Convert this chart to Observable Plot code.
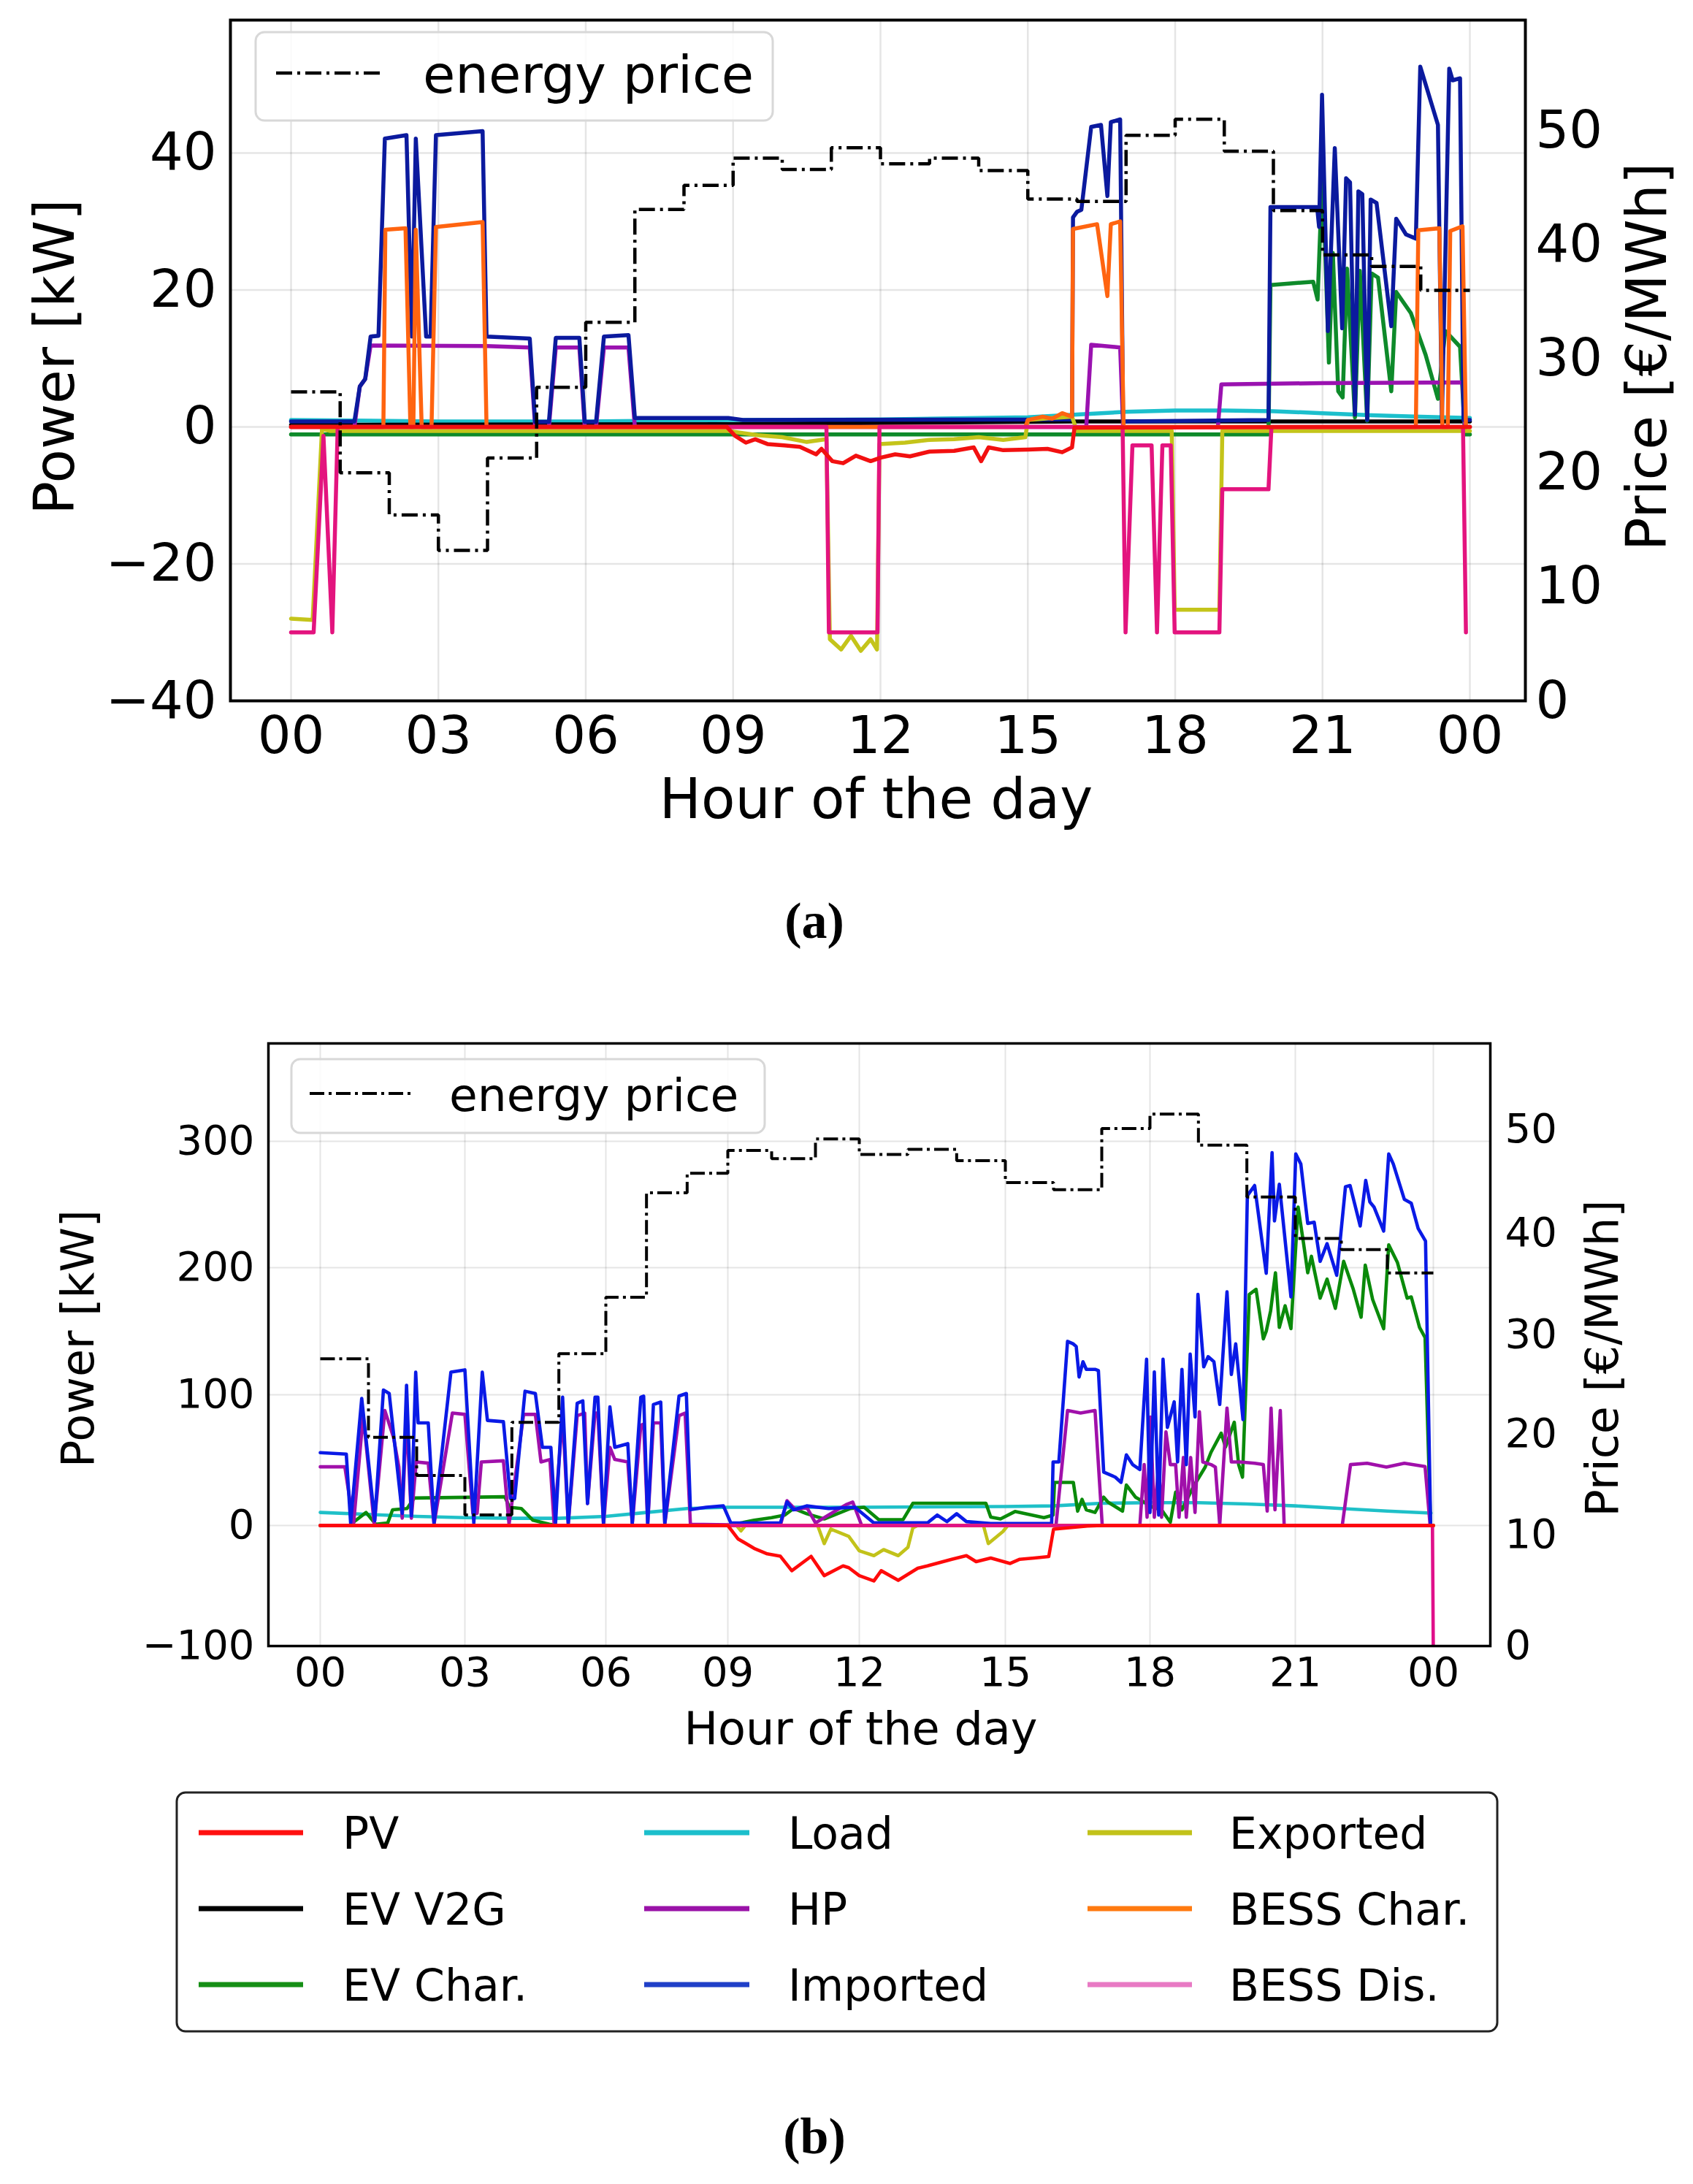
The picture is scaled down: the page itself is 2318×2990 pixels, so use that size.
<!DOCTYPE html>
<html><head><meta charset="utf-8">
<script src="https://cdn.jsdelivr.net/npm/d3@7"></script>
<script src="https://cdn.jsdelivr.net/npm/@observablehq/plot@0.6"></script>
<style>
body{margin:0;background:#fff;}
#page{position:relative;width:2318px;height:2990px;background:#fff;overflow:hidden;font-family:"DejaVu Sans",sans-serif;}
.layer{position:absolute;left:0;}
.cap{position:absolute;font-family:"Liberation Serif","DejaVu Serif",serif;font-weight:bold;font-size:70px;transform:translate(-50%,-50%);white-space:nowrap;}
</style></head><body><div id="page"></div>
<script>
// ---------------- shared ticks / labels ----------------
const hourTicks = [0, 3, 6, 9, 12, 15, 18, 21, 24];
const powerTicksA = [-40, -20, 0, 20, 40];
const powerTicksB = [-100, 0, 100, 200, 300];
const priceTicks = [0, 10, 20, 30, 40, 50];
const seriesNames = ["PV", "EV V2G", "EV Char.", "Load", "HP", "Imported", "Exported", "BESS Char.", "BESS Dis."];

// ---------------- (a) hourly energy price [€/MWh] ----------------
const priceA = [27.1, 20.0, 16.3, 13.2, 21.3, 27.5, 33.2, 43.1, 45.2, 47.6, 46.6, 48.5, 47.1, 47.6, 46.5, 44.0, 43.8, 49.6, 51.0, 48.2, 43.0, 39.1, 38.1, 36.0];
// ---------------- (a) power series [hour, kW] ----------------
const aPV = [[0,0],[8.87,0],[9.04,-1.3],[9.26,-2.3],[9.45,-1.8],[9.7,-2.5],[10.04,-2.7],[10.36,-2.9],[10.69,-4.0],[10.8,-3.2],[11.02,-5.0],[11.24,-5.3],[11.5,-4.2],[11.8,-5.0],[12.0,-4.5],[12.3,-4.0],[12.6,-4.3],[13.0,-3.6],[13.5,-3.5],[13.9,-3.0],[14.05,-5.0],[14.2,-3.0],[14.5,-3.4],[15.0,-3.3],[15.4,-3.2],[15.7,-3.7],[15.9,-3.0],[15.95,-0.1],[24,0]];
const aV2G = [[0,0.3],[9,0.4],[16,0.8],[24,0.8]];
const aEV = [[0,-1.1],[19.9,-1.1],[19.94,20.7],[20.81,21.2],[20.9,18.6],[21.0,37.6],[21.13,9.4],[21.21,25.4],[21.32,5.2],[21.41,4.3],[21.5,23.1],[21.66,1.4],[21.76,22.8],[21.91,0.9],[22.0,22.4],[22.13,21.8],[22.4,5.2],[22.5,19.7],[22.8,16.6],[23.1,10.5],[23.35,4.1],[23.5,14.0],[23.8,11.7],[23.9,-1.1],[24,-1.1]];
const aLoad = [[0,1.0],[3,0.8],[6,0.8],[9,1.0],[12,1.1],[15,1.4],[16,1.8],[17,2.2],[18,2.4],[19,2.4],[20,2.3],[21,2.0],[22,1.7],[23,1.5],[24,1.3]];
const aHP = [[0,0],[1.29,0],[1.4,5.9],[1.51,7.0],[1.62,11.9],[3.98,11.8],[4.86,11.6],[4.97,0],[5.25,0],[5.39,11.6],[5.87,11.6],[5.98,0],[6.21,0],[6.37,11.6],[6.87,11.6],[7.0,0],[16.19,0],[16.29,12.0],[16.88,11.6],[16.94,0],[18.87,0],[18.94,6.2],[21,6.4],[23.85,6.5],[23.9,0],[24,0]];
const aImp = [[0,0.8],[1.29,0.8],[1.4,5.9],[1.51,7.0],[1.62,13.2],[1.78,13.3],[1.91,42.1],[2.35,42.6],[2.46,13.2],[2.54,42.1],[2.75,13.2],[2.84,13.2],[2.95,42.6],[3.9,43.2],[3.98,13.2],[4.86,12.9],[4.97,0.75],[5.25,0.75],[5.39,13.0],[5.87,13.0],[5.98,0.75],[6.21,0.75],[6.37,13.2],[6.87,13.4],[7.0,1.3],[8.9,1.3],[9.2,1.0],[15.9,1.1],[15.92,30.6],[16.0,31.4],[16.09,31.7],[16.29,43.8],[16.49,44.1],[16.62,33.7],[16.69,44.5],[16.88,44.9],[16.94,0.8],[19.9,1.0],[19.94,32.1],[20.89,32.1],[20.93,29.2],[20.99,48.5],[21.11,14.0],[21.25,40.7],[21.4,14.4],[21.48,36.3],[21.56,35.7],[21.66,1.8],[21.73,34.4],[21.81,34.0],[21.91,1.0],[21.98,33.2],[22.1,32.7],[22.4,14.7],[22.5,30.4],[22.7,28.1],[22.9,27.5],[22.99,52.6],[23.35,44.1],[23.43,1.0],[23.58,52.3],[23.65,50.6],[23.8,50.9],[23.87,1.0],[24,1.0]];
const aExp = [[0,-28.0],[0.44,-28.2],[0.63,-0.3],[0.8,-0.6],[8.9,-0.6],[9.1,-0.8],[9.5,-1.2],[10.0,-1.5],[10.5,-2.2],[10.9,-1.8],[10.97,-31.0],[11.2,-32.5],[11.4,-30.5],[11.6,-32.7],[11.8,-31.0],[11.93,-32.5],[11.98,-2.5],[12.5,-2.3],[13.0,-1.9],[13.5,-1.8],[14.0,-1.5],[14.5,-1.9],[14.95,-1.5],[15.0,1.0],[15.5,1.3],[15.9,1.5],[16.0,-0.6],[17.93,-0.6],[17.99,-26.7],[18.9,-26.7],[18.96,-0.6],[24,-0.6]];
const aBC = [[0,0],[1.88,0],[1.92,28.8],[2.33,29.0],[2.43,0],[2.49,0],[2.54,28.8],[2.66,0],[2.86,0],[2.95,29.2],[3.9,29.9],[3.98,0],[14.95,0],[15.0,1.0],[15.3,1.5],[15.5,1.2],[15.7,2.0],[15.9,1.5],[15.92,28.9],[16.41,29.6],[16.62,19.1],[16.69,29.6],[16.88,30.0],[16.95,0],[22.9,0],[22.95,28.7],[23.38,29.0],[23.44,0],[23.55,0],[23.6,28.6],[23.85,29.3],[23.92,0],[24,0]];
const aBD = [[0,-30],[0.46,-30],[0.66,-1.3],[0.84,-30],[0.95,0],[10.9,0],[10.95,-30],[11.94,-30],[11.98,0],[16.93,0],[16.99,-30],[17.13,-2.7],[17.52,-2.7],[17.63,-30],[17.74,-2.7],[17.91,-2.7],[17.99,-30],[18.9,-30],[18.96,-9.1],[19.9,-9.1],[19.96,0],[23.86,0],[23.92,-30]];

// ---------------- (b) hourly energy price [€/MWh] ----------------
const priceB = [27.6, 19.7, 15.9, 12.0, 21.2, 28.1, 33.7, 43.9, 45.8, 48.0, 47.2, 49.1, 47.6, 48.1, 47.0, 44.9, 44.2, 50.1, 51.5, 48.5, 43.5, 39.5, 38.4, 36.1];
// ---------------- (b) power series [hour, kW] ----------------
const bPV = [[0,0],[9.0,0],[9.23,-11],[9.6,-19],[9.9,-23.5],[10.2,-25.5],[10.46,-37.5],[10.9,-25.6],[11.2,-41.6],[11.63,-33.5],[11.76,-35],[12.0,-41.6],[12.3,-46],[12.45,-37.5],[12.8,-45.5],[13.2,-35.5],[13.4,-33.5],[13.9,-28],[14.2,-25],[14.4,-30],[14.7,-27],[15.1,-31.5],[15.3,-28],[15.6,-27],[15.9,-25.8],[16.0,-3],[16.7,-0.5],[17,0],[24,0]];
const bV2G = [[0,0],[24,0]];
const bEV = [[0,0],[0.6,0],[0.95,10],[1.15,1],[1.4,2],[1.5,12],[1.8,13],[1.95,21],[3.85,22],[3.95,14],[4.2,13],[4.45,4],[4.8,1],[5.0,0],[9.1,0],[9.3,2],[9.6,4],[10.0,6],[10.3,8],[10.5,13],[10.8,9],[11.2,5],[11.8,13],[12.1,14],[12.4,4.5],[12.9,4.5],[13.1,17],[14.6,17],[14.7,6.4],[14.9,5],[15.2,10.7],[15.8,6],[15.99,8],[16.02,33],[16.41,33],[16.5,11],[16.59,20],[16.68,12],[16.86,10],[17.04,21.7],[17.13,17.9],[17.43,11],[17.51,31],[17.7,21.7],[17.88,17.9],[18.06,14],[18.24,12],[18.42,2.5],[18.53,25.5],[18.66,12],[18.9,30],[19.14,44.7],[19.26,56],[19.47,70.6],[19.56,60],[19.74,79],[19.83,46.6],[19.91,37],[20.05,179],[20.19,183],[20.34,144],[20.4,150],[20.49,166],[20.59,196],[20.67,153],[20.79,170],[20.91,152],[21.06,248],[21.18,219],[21.27,196],[21.35,209],[21.54,176],[21.69,191],[21.87,168],[22.05,205],[22.26,183],[22.43,161],[22.52,202],[22.68,175],[22.92,152],[23.03,218],[23.22,204],[23.43,176],[23.52,177],[23.7,153],[23.82,145],[23.94,0],[24,0]];
const bLoad = [[0,10],[1,8.5],[2,7],[3,6],[4,5.5],[5,5.5],[6,7],[7,10],[8,13],[9,14],[12,14],[15,14.5],[16,15],[17,17],[18,17.5],[19,17.5],[20,16.5],[21,15],[22,13],[23,11],[23.95,9.5]];
const bHP = [[0,44.9],[0.51,44.9],[0.69,0.9],[0.89,84.1],[1.12,0.9],[1.34,87.9],[1.52,67.3],[1.63,44.9],[1.7,5.6],[1.79,84.1],[1.89,5.6],[1.99,48.6],[2.24,47.7],[2.36,0.9],[2.74,86],[3.0,85],[3.17,9.3],[3.26,9.3],[3.35,48.6],[3.82,49.5],[3.94,0.9],[4.25,85],[4.5,85],[4.62,48.6],[4.81,50.5],[4.9,0.9],[5.08,84],[5.2,0.9],[5.39,84],[5.55,86],[5.61,16.8],[5.77,86],[5.83,86],[5.95,0.9],[6.1,59.8],[6.22,50.5],[6.54,48.6],[6.65,0.9],[6.86,76.6],[6.93,77.6],[7.03,0.9],[7.17,78.5],[7.35,78.5],[7.45,0.9],[7.8,84],[7.95,86],[8.08,0.9],[10.2,0],[10.35,19],[10.55,12],[10.8,14],[11.0,2],[11.4,10],[11.7,16],[11.85,18],[12.05,0],[16.05,0],[16.29,88],[16.56,86],[16.86,88],[17.01,0],[17.79,0],[17.88,46.6],[17.94,6.3],[18.01,83],[18.09,6.3],[18.18,46.6],[18.24,6.3],[18.33,71.6],[18.42,46.6],[18.53,46.6],[18.6,6.3],[18.69,52],[18.75,6.3],[18.84,52],[18.93,10],[19.02,87],[19.09,48.6],[19.26,46.6],[19.35,44.7],[19.44,0.6],[19.59,89.8],[19.68,48.6],[19.86,48.6],[20.16,47.6],[20.34,46.6],[20.42,11],[20.5,89.8],[20.58,12],[20.69,88],[20.77,0],[22.02,0],[22.2,46.6],[22.56,47.6],[22.98,44.7],[23.37,47.6],[23.82,45.1],[23.93,0],[24,0]];
const bImp = [[0,55.7],[0.54,54.6],[0.63,1.9],[0.86,97.2],[1.13,3.7],[1.31,103.7],[1.43,101],[1.7,9.3],[1.79,107.5],[1.89,7.5],[1.98,117.8],[2.03,78.5],[2.24,78.5],[2.36,1.9],[2.71,117.8],[3.0,119.6],[3.19,1.9],[3.37,117.8],[3.48,80.4],[3.82,79.4],[3.97,20.6],[4.06,20.6],[4.28,102.8],[4.5,101],[4.65,59.8],[4.83,59.8],[4.93,1.9],[5.08,98.1],[5.2,1.9],[5.39,93.5],[5.51,95.3],[5.61,16.8],[5.77,98.1],[5.83,98.1],[5.95,1.9],[6.1,90.7],[6.22,59.8],[6.54,62.6],[6.65,1.9],[6.86,98.1],[6.93,99],[7.03,1.9],[7.17,92.5],[7.35,94.4],[7.45,1.9],[7.8,99],[7.98,101],[8.08,12.1],[8.47,14],[8.89,15],[9.07,1.9],[10.2,2],[10.35,18],[10.5,12],[10.8,15],[11.3,13],[11.9,14],[12.3,2],[13.4,2],[13.6,8],[13.8,3],[14.0,9],[14.2,3],[14.7,1.5],[15.96,1.5],[15.99,48.6],[16.11,48.6],[16.29,142],[16.41,140],[16.47,138],[16.53,114],[16.61,126],[16.68,120],[16.86,120],[16.93,119],[17.04,40.9],[17.28,37],[17.4,33],[17.51,54],[17.64,46.6],[17.79,42.8],[17.93,128],[18.0,10],[18.09,118],[18.18,8],[18.27,128],[18.36,75],[18.5,94.6],[18.57,48.6],[18.66,120],[18.75,46.6],[18.83,132],[18.93,83],[18.99,179],[19.11,122],[19.2,130],[19.32,126],[19.44,92.6],[19.59,181],[19.68,116],[19.77,140],[19.92,81],[20.01,257],[20.16,265],[20.4,195.6],[20.52,291],[20.57,237],[20.67,266],[20.91,177],[21.01,290],[21.12,282],[21.27,235],[21.41,236],[21.54,205],[21.69,219],[21.9,194],[22.09,264],[22.19,265],[22.41,233],[22.53,269],[22.62,252],[22.71,248],[22.92,229],[23.03,290],[23.13,282],[23.37,254],[23.52,251],[23.67,231],[23.83,221],[23.94,1]];
const bExp = [[0,0],[9.2,0],[9.3,-4.5],[9.4,0],[11.05,0],[11.2,-15],[11.35,-3],[11.76,-9],[12.0,-21],[12.3,-25],[12.5,-20],[12.8,-25],[13.0,-18],[13.1,-2],[13.2,0],[14.55,0],[14.65,-15],[14.8,-10],[14.95,-5],[15.05,0],[24,0]];
const bBC = [[0,0],[24,0]];
const bBD = [[0,0],[23.98,0],[24,-110]];

// ---------------- styles ----------------
const colorsA = {"PV":"#f21010","EV V2G":"#000000","EV Char.":"#0e8a2a","Load":"#1cbfcc","HP":"#9a12b0","Imported":"#0b1a9e","Exported":"#c4c41a","BESS Char.":"#ff6410","BESS Dis.":"#e3147e"};
const colorsB = {"PV":"#ff0a0a","EV V2G":"#000000","EV Char.":"#0a8a0a","Load":"#1fc0c8","HP":"#a010aa","Imported":"#0a1ae6","Exported":"#c2c21a","BESS Char.":"#ff6a10","BESS Dis.":"#e0108a"};
const colorsLegend = {"PV":"#ff1010","EV V2G":"#000000","EV Char.":"#168f16","Load":"#1cbfcc","HP":"#9a12a8","Imported":"#2040c8","Exported":"#c2c21a","BESS Char.":"#ff7a10","BESS Dis.":"#e87ac4"};
const drawOrder = ["Load","EV V2G","EV Char.","HP","Imported","Exported","BESS Char.","BESS Dis.","PV"];

const seriesA = {"PV":aPV,"EV V2G":aV2G,"EV Char.":aEV,"Load":aLoad,"HP":aHP,"Imported":aImp,"Exported":aExp,"BESS Char.":aBC,"BESS Dis.":aBD};
const seriesB = {"PV":bPV,"EV V2G":bV2G,"EV Char.":bEV,"Load":bLoad,"HP":bHP,"Imported":bImp,"Exported":bExp,"BESS Char.":bBC,"BESS Dis.":bBD};

const fmtHour = d => String(d % 24).padStart(2, "0");
const fmtNum = d => d < 0 ? "\u2212" + Math.abs(d) : String(d);
const priceRows = arr => d3.range(25).map(h => ({h, p: arr[Math.min(h, 23)]}));
const FONT = "DejaVu Sans";
const page = document.getElementById("page");

function place(node, top) {
  const div = document.createElement("div");
  div.className = "layer"; div.style.top = top + "px";
  div.appendChild(node); page.appendChild(div);
}

function buildChart(cfg) {
  const W = 2318, H = cfg.height;
  const m = cfg.margins;
  const fcx = (m.left + (W - m.right)) / 2, fcy = (m.top + (H - m.bottom)) / 2;
  const main = Plot.plot({
    width: W, height: H,
    marginTop: m.top, marginBottom: m.bottom, marginLeft: m.left, marginRight: m.right,
    style: {fontFamily: FONT, background: "white", color: "black", overflow: "visible"},
    x: cfg.x, y: cfg.y,
    marks: [
      Plot.gridX(hourTicks, {stroke: "#000", strokeOpacity: 0.1, strokeWidth: cfg.gridW}),
      Plot.gridY(cfg.powerTicks, {stroke: "#000", strokeOpacity: 0.1, strokeWidth: cfg.gridW}),
      ...drawOrder.map(name => Plot.line(cfg.series[name], {
        x: d => d[0], y: d => d[1], stroke: cfg.colors[name], strokeWidth: cfg.lineW, clip: true
      })),
      Plot.axisX({ticks: hourTicks, tickFormat: fmtHour, tickSize: 0, tickPadding: cfg.xPad, fontSize: cfg.tickFont, label: null}),
      Plot.axisY({ticks: cfg.powerTicks, tickFormat: fmtNum, tickSize: 0, tickPadding: cfg.yPad, fontSize: cfg.tickFont, label: null}),
      Plot.frame({stroke: "black", strokeWidth: cfg.frameW}),
      Plot.text(["Hour of the day"], {text: d => d, frameAnchor: "middle", textAnchor: "middle", lineAnchor: "middle", dx: cfg.xLabel[0] - fcx, dy: cfg.xLabel[1] - fcy, fontSize: cfg.labelFont}),
      Plot.text(["Power [kW]"], {text: d => d, frameAnchor: "middle", textAnchor: "middle", lineAnchor: "middle", rotate: -90, dx: cfg.yLabel[0] - fcx, dy: cfg.yLabel[1] - fcy, fontSize: cfg.labelFont})
    ]
  });
  const over = Plot.plot({
    width: W, height: H,
    marginTop: m.top, marginBottom: m.bottom, marginLeft: m.left, marginRight: m.right,
    style: {fontFamily: FONT, background: "transparent", color: "black", overflow: "visible"},
    x: {...cfg.x, axis: null}, y: cfg.py,
    marks: [
      Plot.line(priceRows(cfg.price), {x: "h", y: "p", curve: "step-after", stroke: "black", strokeWidth: cfg.priceW, strokeDasharray: cfg.dash, strokeLinecap: "butt", strokeLinejoin: "miter"}),
      Plot.axisY({anchor: "right", ticks: priceTicks, tickSize: 0, tickPadding: cfg.rPad, fontSize: cfg.tickFont, label: null}),
      Plot.text(["Price [\u20AC/MWh]"], {text: d => d, frameAnchor: "middle", textAnchor: "middle", lineAnchor: "middle", rotate: -90, dx: cfg.rLabel[0] - fcx, dy: cfg.rLabel[1] - fcy, fontSize: cfg.labelFont})
    ]
  });
  place(main, cfg.top);
  place(over, cfg.top);
}

// ---------------- chart (a) ----------------
buildChart({
  top: 0, height: 1150,
  margins: {top: 27, bottom: 191, left: 315, right: 230},
  x: {type: "linear", domain: [-1.234, 25.13]},
  y: {type: "linear", domain: [-40, 59.4]},
  py: {type: "linear", domain: [0, 59.7]},
  powerTicks: powerTicksA, series: seriesA, colors: colorsA, price: priceA,
  lineW: 5.5, priceW: 4.5, dash: "22,7,4,7", gridW: 2.5, frameW: 4,
  tickFont: 72, labelFont: 76, xPad: 20, yPad: 19, rPad: 14,
  xLabel: [1199, 1095], yLabel: [76, 488], rLabel: [2256, 488]
});

// ---------------- chart (b) ----------------
const topB = 1330;
buildChart({
  top: topB, height: 1100,
  margins: {top: 98, bottom: 177, left: 367, right: 278},
  x: {type: "linear", domain: [-1.076, 0, 3, 6, 9, 12, 15, 18, 21, 24, 25.24], range: [367, 438, 636, 829, 996, 1176, 1376, 1574, 1773, 1962, 2040]},
  y: {type: "linear", domain: [-100, 0, 100, 200, 300, 377.5], range: [923, 758, 579, 405, 232, 98]},
  py: {type: "linear", domain: [0, 10, 20, 30, 40, 50, 58.3], range: [923, 771, 633, 497, 358, 216, 98]},
  powerTicks: powerTicksB, series: seriesB, colors: colorsB, price: priceB,
  lineW: 4.6, priceW: 4, dash: "20,6,4,6", gridW: 2, frameW: 3.5,
  tickFont: 56, labelFont: 62, xPad: 15, yPad: 19, rPad: 20,
  xLabel: [1178, 2368 - topB], yLabel: [108, 1832 - topB], rLabel: [2195, 1859 - topB]
});

// ---------------- legends ----------------
function legendBox(left, top, w, h, stroke, items, fontSize) {
  const svg = d3.create("svg").attr("width", w + 10).attr("height", h + 10)
    .style("position", "absolute").style("left", (left - 5) + "px").style("top", (top - 5) + "px")
    .style("font-family", FONT).style("overflow", "visible");
  svg.append("rect").attr("x", 5).attr("y", 5).attr("width", w).attr("height", h)
    .attr("rx", 12).attr("fill", "white").attr("fill-opacity", 0.85)
    .attr("stroke", stroke).attr("stroke-width", 3);
  for (const it of items) {
    svg.append("line").attr("x1", it.x1 - left + 5).attr("x2", it.x2 - left + 5)
      .attr("y1", it.y - top + 5).attr("y2", it.y - top + 5)
      .attr("stroke", it.color).attr("stroke-width", it.width)
      .attr("stroke-dasharray", it.dash || null);
    svg.append("text").attr("x", it.tx - left + 5).attr("y", it.y - top + 5 + it.dy)
      .attr("dominant-baseline", "central").attr("font-size", fontSize).attr("fill", "black")
      .text(it.label);
  }
  page.appendChild(svg.node());
}

legendBox(350, 44, 708, 121, "#d8d8d8",
  [{x1: 378, x2: 521, y: 100, color: "black", width: 4.5, dash: "22,7,4,7", tx: 579, dy: 2, label: "energy price"}], 72);
legendBox(399, 1450, 648, 101, "#d8d8d8",
  [{x1: 424, x2: 566, y: 1497, color: "black", width: 4, dash: "20,6,4,6", tx: 615, dy: 2, label: "energy price"}], 63);

const legendCols = [[272, 415, 469], [882, 1026, 1079], [1489, 1632, 1683]];
const legendRows = [2509, 2613, 2717];
const bottomItems = seriesNames.map((name, i) => {
  const c = legendCols[Math.floor(i / 3)], r = legendRows[i % 3];
  return {x1: c[0], x2: c[1], y: r, color: colorsLegend[name], width: 7, tx: c[2], dy: 1, label: name};
});
legendBox(242, 2454, 1808, 327, "#222", bottomItems, 60);

// ---------------- captions ----------------
for (const [t, x, y] of [["(a)", 1115, 1261], ["(b)", 1115, 2925]]) {
  const d = document.createElement("div");
  d.className = "cap"; d.style.left = x + "px"; d.style.top = y + "px"; d.textContent = t;
  page.appendChild(d);
}
</script></body></html>
